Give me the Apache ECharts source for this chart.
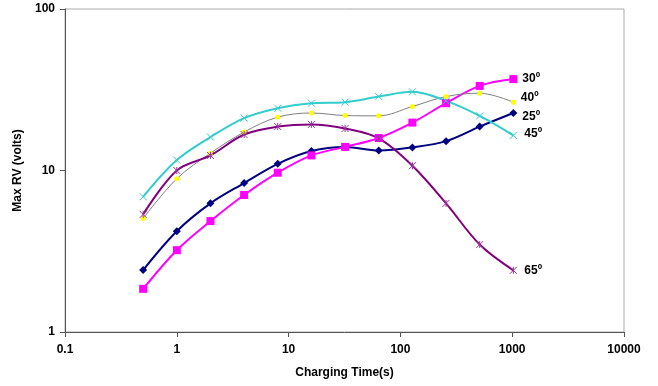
<!DOCTYPE html>
<html>
<head>
<meta charset="utf-8">
<script src="https://cdn.jsdelivr.net/npm/echarts@6/dist/echarts.min.js"></script>
<style>
	html, body { margin: 0; padding: 0; background: #fff; }
	#main { width: 658px; height: 386px; }
</style>
</head>
<body>
<div id="main"></div>
<script>
	// charging times (s)
	var times = [0.5, 1, 2, 4, 8, 16, 32, 64, 128, 256, 512, 1024];

	// max RV (volts) per angle
	var rv25 = [2.42, 4.21, 6.26, 8.36, 11.0, 13.2, 14.0, 13.3, 13.9, 15.2, 18.7, 22.7];
	var rv30 = [1.85, 3.21, 4.86, 7.05, 9.69, 12.4, 14.0, 15.9, 19.8, 26.1, 33.4, 36.8];
	var rv40 = [5.05, 8.9, 12.8, 17.3, 21.4, 22.7, 21.9, 21.8, 24.9, 28.7, 30.1, 26.5];
	var rv45 = [6.88, 11.6, 16.1, 21.1, 24.3, 26.1, 26.5, 28.7, 30.7, 27.0, 21.8, 16.5];
	var rv65 = [5.35, 10.0, 12.4, 16.7, 18.7, 19.3, 18.2, 15.8, 10.7, 6.26, 3.48, 2.41];

	var seriesNames = ['25º', '30º', '40º', '45º', '65º'];

	var xMark = 'path://M0,0L10,10M0,10L10,0';
	var starMark = 'path://M0,0L10,10M0,10L10,0M5,0L5,10';
	var font = 'Liberation Sans, Arial, sans-serif';

	function pairs(vals) {
		return times.map(function(t, i) { return [t, vals[i]]; });
	}

	// last point gets the angle label
	function withEndLabel(vals, name, dy) {
		var d = pairs(vals);
		var last = d.length - 1;
		d[last] = {
			value: d[last],
			label: {
				show: true,
				position: 'right',
				offset: [0, dy],
				formatter: name,
				color: '#000',
				fontWeight: 'bold',
				fontSize: 12,
				fontFamily: font
			}
		};
		return d;
	}

	var chart = echarts.init(document.getElementById('main'));

	var option = {
		animation: false,
		backgroundColor: '#fff',
		grid: {
			left: 65, right: 34, top: 9, bottom: 54,
			show: true, borderColor: '#aaa', borderWidth: 1, backgroundColor: 'transparent'
		},
		xAxis: {
			type: 'log',
			logBase: 10,
			min: 0.1,
			max: 10000,
			name: 'Charging Time(s)',
			nameLocation: 'middle',
			nameGap: 35,
			nameTextStyle: { color: '#000', fontWeight: 'bold', fontSize: 12, fontFamily: font },
			axisLine: { lineStyle: { color: '#555', width: 1 } },
			axisTick: { show: true, length: 5, lineStyle: { color: '#555' } },
			minorTick: { show: false },
			splitLine: { show: false },
			axisLabel: {
				color: '#000', fontWeight: 'bold', fontSize: 12, margin: 12,
				fontFamily: font,
				formatter: function(v) { return String(v); }
			}
		},
		yAxis: {
			type: 'log',
			logBase: 10,
			min: 1,
			max: 100,
			name: 'Max RV (volts)',
			nameLocation: 'middle',
			nameGap: 31,
			nameTextStyle: { color: '#000', fontWeight: 'bold', fontSize: 12, fontFamily: font },
			axisLine: { show: true, lineStyle: { color: '#555', width: 1 } },
			axisTick: { show: true, length: 5, lineStyle: { color: '#555' } },
			splitLine: { show: false },
			axisLabel: {
				color: '#000', fontWeight: 'bold', fontSize: 12, margin: 10,
				fontFamily: font
			}
		},
		series: [
			{
				name: seriesNames[0], type: 'line', smooth: 0.35,
				data: withEndLabel(rv25, seriesNames[0], 4),
				symbol: 'diamond', symbolSize: 8,
				lineStyle: { color: '#000080', width: 2 },
				itemStyle: { color: '#000080' }
			},
			{
				name: seriesNames[1], type: 'line', smooth: 0.35,
				data: withEndLabel(rv30, seriesNames[1], 0),
				symbol: 'rect', symbolSize: 8,
				lineStyle: { color: '#ff00ff', width: 2 },
				itemStyle: { color: '#ff00ff' }
			},
			{
				name: seriesNames[2], type: 'line', smooth: 0.35,
				data: withEndLabel(rv40, seriesNames[2], -4),
				symbol: 'circle', symbolSize: 5,
				lineStyle: { color: '#808080', width: 1 },
				itemStyle: { color: '#ffff00' }
			},
			{
				name: seriesNames[3], type: 'line', smooth: 0.35,
				data: withEndLabel(rv45, seriesNames[3], -2),
				symbol: xMark, symbolSize: 7,
				lineStyle: { color: '#33cccc', width: 2 },
				itemStyle: { color: 'none', borderColor: '#33cccc', borderWidth: 1 }
			},
			{
				name: seriesNames[4], type: 'line', smooth: 0.35,
				data: withEndLabel(rv65, seriesNames[4], 0),
				symbol: starMark, symbolSize: 7,
				lineStyle: { color: '#800080', width: 2 },
				itemStyle: { color: 'none', borderColor: '#993399', borderWidth: 1 }
			}
		]
	};

	chart.setOption(option);
</script>
</body>
</html>
